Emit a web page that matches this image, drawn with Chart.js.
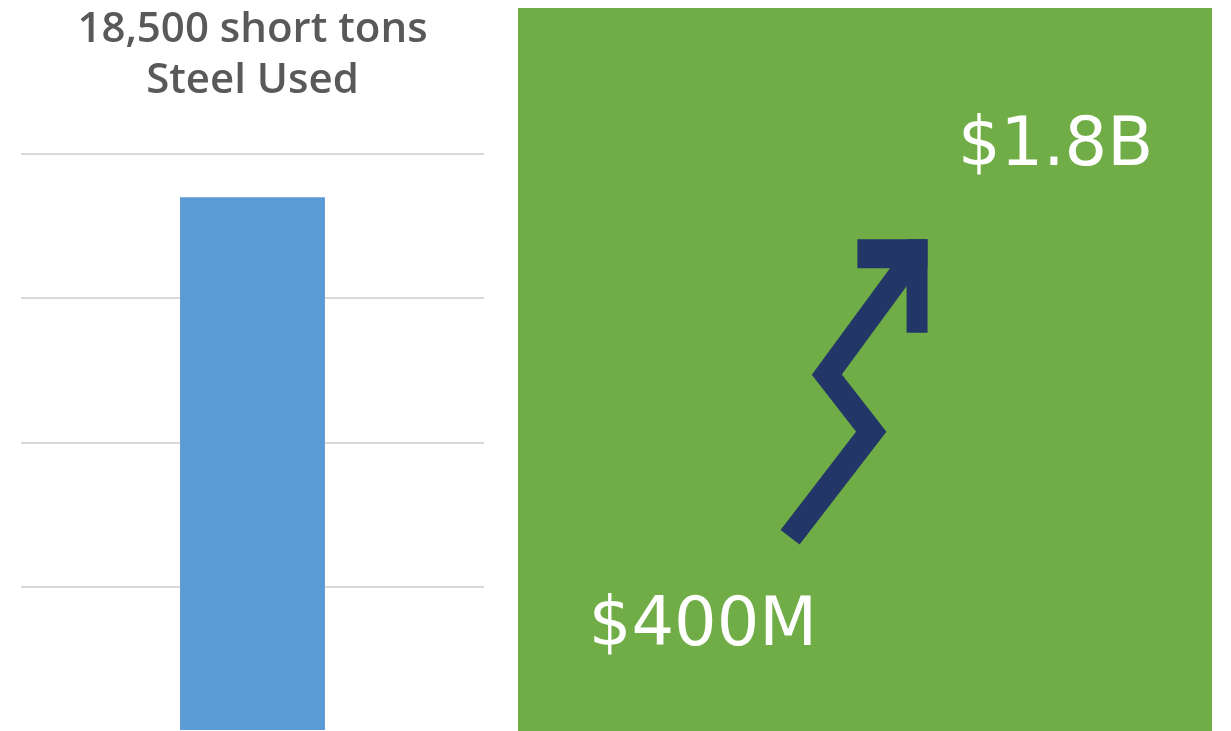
<!DOCTYPE html>
<html>
<head>
<meta charset="utf-8">
<title>Steel Used</title>
<script src="https://cdn.jsdelivr.net/npm/chart.js@4.4.1/dist/chart.umd.min.js"></script>
<style>
  html, body { margin: 0; padding: 0; background: #fff; }
  body { position: relative; width: 1231px; height: 731px; overflow: hidden; }
  #steelChart { position: absolute; left: 0; top: 0; }
  #costChart { position: absolute; left: 518px; top: 8px; }
</style>
</head>
<body>
<canvas id="steelChart" width="518" height="731"></canvas>
<canvas id="costChart" width="694" height="723"></canvas>
<script>
// steel tonnage bar
var categories = ['Steel Used'];
var steelTons = [18500];
var tonTicks = [0, 5000, 10000, 15000, 20000];

// project cost, start -> finish
var costLabels = ['$400M', '$1.8B'];
var costLabelX = [10.2, 63.4];
var costLabelY = [11.9, 78.3];

// zigzag trend arrow, drawn on a 0-100 grid
var arrowX = [39.2, 50.9, 44.5, 57.5];
var arrowY = [26.8, 41.4, 49.3, 66.3];
var headTopX = [48.9, 59.0];
var headTopY = [66.0, 66.0];
var headSideX = [57.5, 57.5];
var headSideY = [68.0, 55.1];

var BLUE = '#5B9BD5';
var GREEN = '#70AD47';
var NAVY = '#223768';
var GREY_TEXT = '#595959';
var GRID = '#d9d9d9';

(function () {
  'use strict';

  var titleText = [steelTons[0].toLocaleString('en-US') + ' short tons', categories[0]];

  new Chart(document.getElementById('steelChart'), {
    type: 'bar',
    data: {
      labels: categories,
      datasets: [{
        data: steelTons,
        backgroundColor: BLUE,
        borderWidth: 0,
        categoryPercentage: 1,
        barPercentage: 0.313
      }]
    },
    options: {
      responsive: false,
      animation: false,
      layout: { padding: { left: 21, right: 34, top: 0, bottom: 0 } },
      plugins: {
        legend: { display: false },
        tooltip: { enabled: false },
        title: {
          display: true,
          text: titleText,
          color: GREY_TEXT,
          font: { family: '"Open Sans", "DejaVu Sans", sans-serif', weight: '600', size: 42, lineHeight: 51 / 42 },
          padding: { top: 5, bottom: 47 }
        }
      },
      scales: {
        x: { display: false },
        y: {
          min: tonTicks[0],
          max: tonTicks[tonTicks.length - 1],
          ticks: { display: false, stepSize: tonTicks[1] - tonTicks[0] },
          border: { display: false },
          grid: {
            // baseline sits on the page edge, leave it out
            color: function (c) { return c.tick && c.tick.value === 0 ? 'rgba(0,0,0,0)' : GRID; },
            lineWidth: 2,
            drawTicks: false
          }
        }
      }
    }
  });

  // green panel background + the two cost figures
  var panelPlugin = {
    id: 'panel',
    beforeDraw: function (chart) {
      var ctx = chart.ctx;
      ctx.save();
      ctx.fillStyle = GREEN;
      ctx.fillRect(0, 0, chart.width, chart.height);
      ctx.restore();
    },
    afterDatasetsDraw: function (chart) {
      var ctx = chart.ctx;
      var xs = chart.scales.x, ys = chart.scales.y;
      ctx.save();
      ctx.fillStyle = '#ffffff';
      ctx.font = '67px "DejaVu Sans", sans-serif';
      ctx.textAlign = 'left';
      ctx.textBaseline = 'alphabetic';
      costLabels.forEach(function (txt, i) {
        ctx.fillText(txt, xs.getPixelForValue(costLabelX[i]), ys.getPixelForValue(costLabelY[i]));
      });
      ctx.restore();
    }
  };

  function pts(xs, ys) {
    return xs.map(function (x, i) { return { x: x, y: ys[i] }; });
  }

  var lineStyle = {
    showLine: true,
    borderColor: NAVY,
    pointRadius: 0,
    borderCapStyle: 'butt',
    borderJoinStyle: 'miter',
    tension: 0
  };

  new Chart(document.getElementById('costChart'), {
    type: 'scatter',
    data: {
      datasets: [
        Object.assign({ data: pts(arrowX, arrowY), borderWidth: 24 }, lineStyle),
        Object.assign({ data: pts(headTopX, headTopY), borderWidth: 29 }, lineStyle),
        Object.assign({ data: pts(headSideX, headSideY), borderWidth: 21 }, lineStyle)
      ]
    },
    options: {
      responsive: false,
      animation: false,
      layout: { padding: 0 },
      plugins: { legend: { display: false }, tooltip: { enabled: false } },
      scales: {
        x: { type: 'linear', display: false, min: 0, max: 100 },
        y: { type: 'linear', display: false, min: 0, max: 100 }
      }
    },
    plugins: [panelPlugin]
  });
}());
</script>
</body>
</html>
